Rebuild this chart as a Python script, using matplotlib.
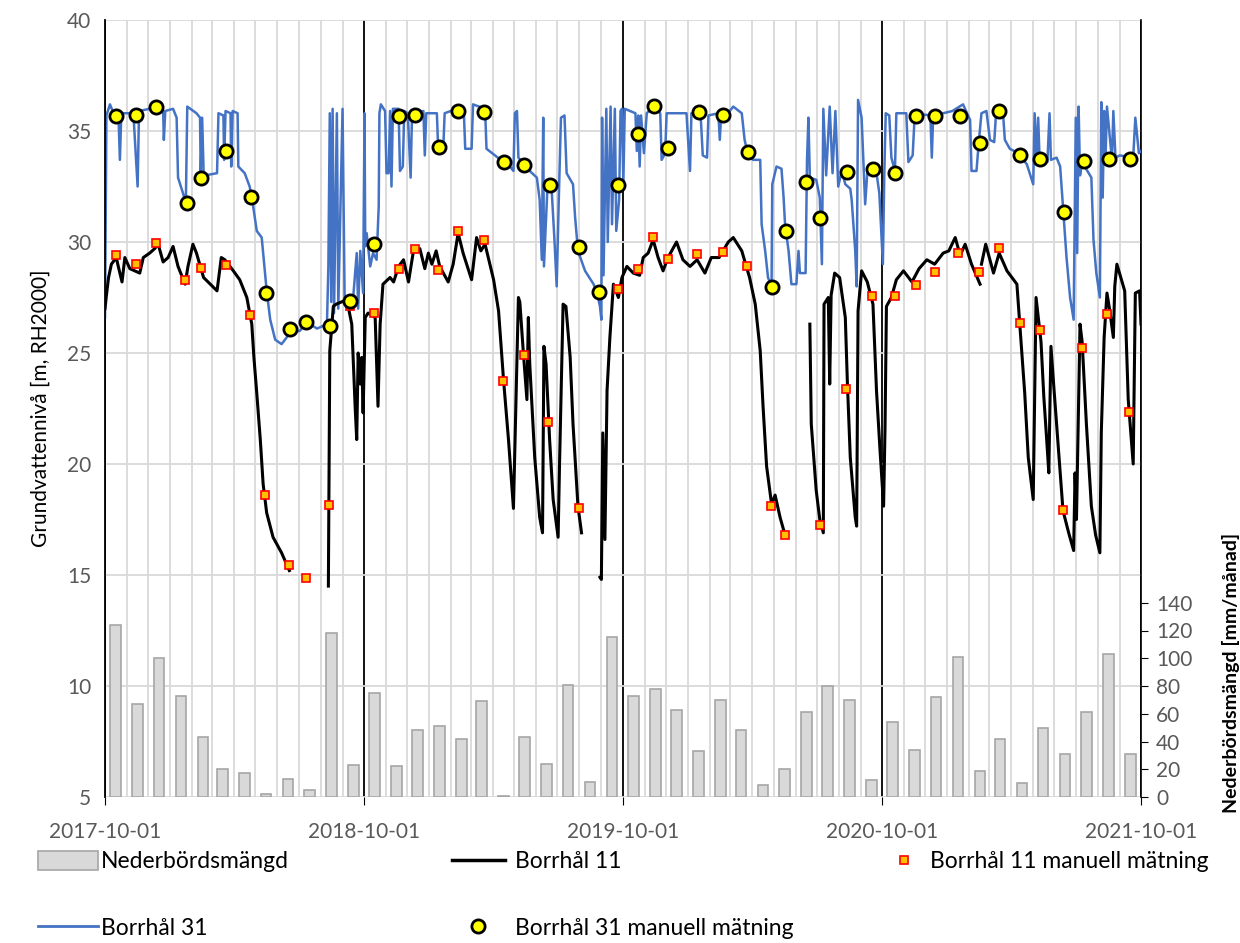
import numpy as np
import pandas as pd
import matplotlib
matplotlib.use('Agg')
import matplotlib.pyplot as plt
import matplotlib.dates as mdates
from matplotlib.lines import Line2D
from matplotlib.patches import Patch

plt.rcParams['font.family'] = ['Lato', 'DejaVu Sans']

start = '2017-10-01'
end = '2021-10-01'

# monthly precipitation, Oct 2017 - Sep 2021 (mm/month)
precip = [124, 67, 100, 73, 43, 20, 17, 2, 13, 5, 118, 23,
          75, 22, 48, 51, 42, 69, 1, 43, 24, 81, 11, 115,
          73, 78, 63, 33, 70, 48, 9, 20, 61, 80, 70, 12,
          54, 34, 72, 101, 19, 42, 10, 50, 31, 61, 103, 31]

# Borrhål 11 logger (days since 2017-10-01, level m RH2000), nan = gap
b11_day = [0, 2, 5, 9, 16, 18, 24, 28, 35, 42, 49, 54, 63, 70, 75, 82, 89, 96, 103, 113,
           117, 124, 129, 139, 158, 164, 169, 181, 190, 200, 207, 210, 214, 219, 223, 228,
           237, 249, 260, np.nan,
           315, 317, 322, 326, 341, 348, 353, 355, 357, 360, 362, 364, 367, 371, 381, 385,
           388, 392, 402, 407, 414, 421, 428, 435, 444, 451, 456, 461, 467, 472, 484, 491,
           498, 505, 517, 524, 530, 536, 548, 555, 562, 569, 576, 583, 585, 590, 595, 597,
           599, 606, 613, 617, 619, 622, 627, 632, 639, 641, 644, 646, 650, 656, 660, 667,
           672, np.nan,
           698, 700, 702, 705, 708, 712, 717, 724, 729, 736, 745, 754, 759, 766, 773, 780,
           787, 794, 806, 815, 825, 835, 846, 855, 866, 879, 886, 888, 898, 909, 917, 924,
           928, 933, 940, 945, 952, 959, np.nan,
           994, 996, 1003, 1008, 1013, 1014, 1020, 1022, 1024, 1029, 1036, 1044, 1047, 1051,
           1058, 1060, 1062, 1067, 1075, 1083, 1088, 1093, 1098, 1100, 1102, 1109, 1116, 1126,
           1138, 1148, 1159, 1170, 1182, 1190, 1199, 1206, 1213, 1222, 1234, np.nan,
           1236, 1242, 1253, 1261, 1272, 1286, 1290, 1297, 1302, 1309, 1313, 1320, 1324, 1328,
           1331, 1334, 1338, 1345, 1351, 1359, 1366, 1368, 1370, 1375, 1378, 1384, 1391, 1397,
           1403, 1405, 1409, 1413, 1417, 1422, 1424, 1427, 1438, 1443, 1450, 1453, 1459, 1461]
b11_level = [27.0, 27.6, 28.4, 29.0, 29.3, 29.0, 28.2, 29.3, 28.8, 28.7, 28.6, 29.3, 29.5, 29.7,
             29.9, 29.1, 29.3, 29.8, 28.9, 28.1, 28.9, 29.9, 29.5, 28.4, 27.8, 29.3, 29.2, 28.7,
             28.3, 27.5, 26.3, 24.8, 23.2, 21.1, 19.1, 17.8, 16.7, 16.0, 15.2, np.nan,
             14.5, 25.1, 27.1, 27.2, 27.4, 26.3, 22.4, 21.1, 25.0, 23.6, 24.8, 22.3, 26.6, 26.8,
             26.6, 22.6, 26.3, 28.1, 28.4, 28.2, 28.9, 29.2, 28.2, 29.6, 29.7, 28.8, 29.5, 29.0,
             29.6, 28.9, 28.2, 29.0, 30.4, 29.5, 28.3, 30.2, 29.6, 29.9, 28.3, 26.9, 23.8, 21.1,
             18.0, 27.5, 27.3, 25.0, 22.9, 26.6, 24.5, 20.3, 17.6, 16.9, 25.3, 24.5, 21.1, 18.4,
             16.7, 20.0, 24.2, 27.2, 27.1, 24.8, 21.8, 18.1, 16.9, np.nan,
             14.9, 14.8, 21.4, 16.6, 23.3, 25.7, 28.1, 27.5, 28.4, 28.9, 28.6, 28.5, 29.3, 29.5,
             30.1, 29.3, 28.7, 29.3, 30.0, 29.2, 28.9, 29.2, 28.6, 29.3, 29.3, 30.0, 30.2, 30.1,
             29.6, 28.4, 27.2, 25.1, 22.6, 19.9, 18.2, 18.6, 17.6, 16.8, np.nan,
             26.3, 21.8, 18.8, 17.5, 16.9, 27.2, 27.5, 23.6, 27.6, 28.6, 28.4, 26.6, 23.6, 20.3,
             17.6, 17.2, 26.9, 28.7, 28.2, 27.2, 23.3, 20.6, 18.1, 21.6, 27.1, 27.5, 28.3, 28.7,
             28.2, 28.8, 29.2, 29.0, 29.5, 29.6, 30.2, 29.4, 29.9, 29.0, 28.1, np.nan,
             29.0, 29.9, 28.6, 29.5, 28.7, 28.1, 26.3, 23.2, 20.3, 18.4, 27.5, 25.5, 23.0, 21.1,
             19.6, 25.3, 23.5, 20.5, 17.9, 16.9, 16.1, 19.6, 17.5, 26.3, 25.5, 21.8, 18.1, 16.8,
             16.0, 21.4, 25.7, 27.7, 26.9, 25.7, 28.0, 29.0, 27.8, 22.9, 20.0, 27.7, 27.8, 26.3]

# Borrhål 31 logger
b31_day = [0, 2, 7, 12, 19, 21, 23, 40, 46, 48, 63, 82, 83, 85, 96, 101, 103, 110, 114, 116,
           129, 134, 135, 137, 139, 141, 158, 160, 167, 168, 170, 177, 178, 180, 187, 188, 197,
           204, 209, 214, 221, 223, 228, 233, 240, 249, 261, 275, 284, 299, 313, 315, 317, 319,
           321, 323, 327, 329, 335, 338, 340, 345, 350, 355, 357, 360, 364, 366, 367, 369, 374,
           378, 383, 386, 387, 389, 395, 397, 400, 402, 404, 406, 414, 416, 420, 422, 427, 431,
           433, 449, 451, 453, 468, 470, 477, 479, 496, 506, 508, 517, 519, 536, 538, 550, 562,
           571, 576, 578, 581, 583, 599, 609, 613, 616, 618, 619, 624, 630, 634, 637, 640, 643,
           648, 651, 660, 663, 667, 677, 689, 694, 698, 700, 701, 703, 707, 709, 713, 715, 719,
           721, 725, 727, 729, 731, 733, 748, 750, 752, 754, 756, 760, 764, 773, 783, 785, 790,
           792, 820, 825, 827, 840, 843, 849, 851, 865, 867, 869, 881, 886, 898, 902, 907, 914,
           924, 926, 931, 935, 940, 941, 947, 954, 957, 959, 964, 968, 975, 978, 980, 988, 990,
           992, 994, 1003, 1008, 1011, 1013, 1017, 1022, 1026, 1030, 1034, 1039, 1044, 1051,
           1053, 1058, 1060, 1062, 1067, 1070, 1072, 1075, 1088, 1092, 1097, 1099, 1101, 1106,
           1109, 1114, 1116, 1130, 1133, 1139, 1142, 1164, 1166, 1168, 1182, 1195, 1210, 1220,
           1222, 1229, 1232, 1236, 1243, 1248, 1254, 1257, 1266, 1269, 1276, 1288, 1300, 1309,
           1311, 1314, 1316, 1318, 1329, 1332, 1334, 1342, 1347, 1351, 1356, 1361, 1366, 1368,
           1369, 1371, 1373, 1375, 1378, 1391, 1394, 1398, 1403, 1405, 1407, 1409, 1411, 1413,
           1420, 1422, 1425, 1431, 1450, 1453, 1458, 1461]
b31_level = [26.6, 35.7, 36.2, 35.8, 35.7, 33.7, 35.8, 35.8, 32.5, 35.9, 36.0, 35.9, 34.6, 35.9,
             36.0, 35.6, 32.9, 32.2, 31.7, 36.1, 35.8, 35.6, 33.1, 35.6, 33.2, 33.0, 33.1, 35.8,
             35.7, 33.7, 35.9, 35.8, 33.4, 35.9, 35.8, 33.4, 33.1, 32.5, 31.6, 30.5, 30.2, 29.5,
             27.8, 26.5, 25.6, 25.4, 25.9, 26.0, 26.4, 26.1, 26.3, 28.9, 35.8, 27.3, 36.0, 26.8,
             35.8, 27.0, 36.0, 27.2, 27.3, 27.0, 27.5, 29.5, 27.0, 29.6, 27.7, 35.8, 29.8, 30.4,
             28.9, 29.5, 29.2, 31.6, 35.8, 36.2, 35.9, 33.1, 33.1, 35.9, 32.5, 36.0, 36.0, 33.2,
             33.4, 35.9, 35.8, 32.9, 35.8, 35.9, 33.9, 35.8, 35.8, 34.1, 34.2, 35.8, 36.0, 35.9,
             34.2, 34.2, 36.2, 36.0, 34.2, 33.9, 33.6, 33.4, 33.2, 35.8, 35.9, 33.8, 33.2, 32.9,
             31.9, 29.2, 35.6, 28.9, 32.5, 32.3, 30.0, 28.0, 32.0, 35.6, 35.7, 33.1, 32.6, 31.1,
             29.6, 28.7, 28.1, 27.7, 27.1, 26.5, 35.6, 28.5, 36.0, 30.0, 36.1, 30.8, 36.0, 30.5,
             31.9, 35.9, 36.0, 32.7, 36.0, 35.8, 34.1, 35.7, 33.4, 35.7, 34.0, 35.8, 36.1, 35.8,
             33.7, 34.0, 35.8, 35.8, 33.2, 35.8, 35.7, 33.9, 33.8, 35.7, 35.8, 34.6, 35.8, 35.9,
             36.1, 35.8, 34.6, 33.9, 33.7, 33.7, 30.8, 29.6, 28.4, 28.0, 32.6, 33.4, 33.3, 32.0,
             30.8, 29.6, 28.1, 28.1, 29.6, 28.6, 28.6, 33.7, 35.6, 32.9, 32.8, 32.0, 29.0, 36.0,
             33.0, 36.1, 33.1, 35.9, 32.5, 33.2, 32.6, 32.4, 31.9, 29.6, 28.0, 36.4, 35.6, 33.3,
             31.7, 33.1, 33.1, 32.2, 29.0, 33.1, 35.8, 35.7, 33.8, 33.2, 35.8, 35.8, 33.6, 33.9,
             35.8, 35.7, 33.8, 35.8, 35.8, 35.9, 36.2, 35.5, 33.2, 33.2, 34.4, 35.8, 35.9, 34.6,
             34.5, 36.0, 36.0, 34.6, 34.2, 34.0, 33.5, 32.6, 35.8, 33.7, 35.6, 33.7, 33.6, 35.8,
             33.7, 33.8, 33.4, 31.6, 29.3, 27.5, 26.5, 32.3, 35.6, 29.5, 36.1, 33.0, 33.6, 32.9,
             30.1, 28.6, 27.5, 36.3, 32.0, 35.9, 33.8, 36.1, 33.7, 35.9, 33.8, 33.9, 33.8, 35.6,
             34.0, 34.1]

# manual measurements
b11_man_day = [16, 44, 72, 113, 135, 170, 205, 225, 260, 283, 316, 345, 379, 414, 437, 470,
               498, 535, 561, 591, 625, 668, 723, 751, 773, 794, 835, 872, 905, 939, 959, 1008,
               1045, 1081, 1114, 1144, 1170, 1203, 1233, 1261, 1290, 1319, 1351, 1378, 1413, 1444]
b11_man_level = [29.43, 29.02, 29.97, 28.30, 28.83, 28.98, 26.70, 18.61, 15.46, 14.86, 18.15,
                 27.12, 26.81, 28.77, 29.67, 28.72, 30.51, 30.09, 23.72, 24.91, 21.89, 18.03,
                 27.88, 28.78, 30.21, 29.25, 29.44, 29.55, 28.90, 18.09, 16.79, 17.25, 23.36,
                 27.58, 27.58, 28.08, 28.66, 29.49, 28.66, 29.73, 26.34, 26.05, 17.91, 25.21,
                 26.76, 22.35]
b31_man_day = [16, 44, 72, 115, 135, 171, 206, 227, 261, 284, 317, 345, 379, 415, 437, 471,
               498, 534, 562, 591, 627, 668, 697, 723, 751, 774, 794, 837, 872, 907, 941, 960,
               989, 1008, 1047, 1083, 1114, 1144, 1170, 1206, 1234, 1261, 1291, 1319, 1352, 1380,
               1416, 1446]
b31_man_level = [35.66, 35.72, 36.07, 31.74, 32.87, 34.11, 32.04, 27.70, 26.09, 26.39, 26.21,
                 27.35, 29.91, 35.66, 35.72, 34.27, 35.90, 35.84, 33.59, 33.48, 32.58, 29.77,
                 27.76, 32.57, 34.88, 36.13, 34.25, 35.84, 35.72, 34.05, 27.96, 30.51, 32.69,
                 31.08, 33.17, 33.29, 33.11, 35.66, 35.66, 35.66, 34.47, 35.90, 33.93, 33.75,
                 31.34, 33.63, 33.75, 33.75]

t0 = mdates.date2num(pd.Timestamp(start))
b11_x = t0 + np.array(b11_day, dtype=float)
b31_x = t0 + np.array(b31_day, dtype=float)
month_mid = mdates.date2num(pd.date_range(start, periods=len(precip), freq='MS')) + 15

fig = plt.figure(figsize=(12.4, 9.43), dpi=100)
ax = fig.add_axes([105 / 1240, 1 - 797 / 943, 1036 / 1240, 777 / 943])
axp = ax.twinx()
ax.set_zorder(2)
axp.set_zorder(1)
ax.patch.set_visible(False)

grey = '#595959'
grid = '#d9d9d9'

# precipitation bars on the right axis, grid drawn behind them
axp.bar(month_mid, precip, width=15, color='#d9d9d9', edgecolor='#a6a6a6', linewidth=1.2)
axp.set_ylim(0, 560)
axp.set_yticks(range(0, 141, 20))
axp.set_yticks(range(0, 561, 80), minor=True)
axp.yaxis.remove_overlapping_locs = False
axp.set_axisbelow(True)
axp.xaxis.set_visible(True)
axp.grid(True, axis='x', which='minor', color=grid, lw=1.3)
axp.grid(True, axis='x', which='major', color='black', lw=1.3)
axp.grid(True, axis='y', which='minor', color=grid, lw=1.3)
axp.tick_params(axis='x', which='both', bottom=False, top=False, labelbottom=False, labeltop=False)
axp.tick_params(axis='y', which='major', direction='out', length=5, color='black',
                labelcolor=grey, labelsize=15, pad=6)
axp.tick_params(axis='y', which='minor', length=0)
for s in ['top', 'left', 'bottom']:
    axp.spines[s].set_visible(False)
axp.spines['right'].set_color('black')
axp.spines['right'].set_linewidth(1.2)
axp.set_ylabel('Nederbördsmängd [mm/månad]', fontsize=14, fontweight='bold', color='black')
axp.yaxis.set_label_coords(1.078, 0.16)

# groundwater levels
ax.plot(b31_x, b31_level, color='#4472c4', lw=1.8)
ax.plot(b11_x, b11_level, color='black', lw=2.2)
ax.plot(t0 + np.array(b11_man_day), b11_man_level, 's', ms=6, mfc='#ffc000', mec='#ff0000', mew=1.2)
ax.plot(t0 + np.array(b31_man_day), b31_man_level, 'o', ms=9.5, mfc='#ffff00', mec='black', mew=2)

ax.xaxis_date()
ax.set_xlim(mdates.date2num(pd.Timestamp(start)), mdates.date2num(pd.Timestamp(end)))
ax.set_ylim(5, 40)
ax.set_yticks(range(5, 41, 5))
ax.xaxis.set_major_locator(mdates.YearLocator(month=10, day=1))
ax.xaxis.set_minor_locator(mdates.MonthLocator())
ax.xaxis.set_major_formatter(mdates.DateFormatter('%Y-%m-%d'))
ax.tick_params(axis='x', which='major', direction='out', length=6, color='black',
               labelcolor=grey, labelsize=15, pad=12)
ax.tick_params(axis='x', which='minor', length=0)
ax.tick_params(axis='y', length=0, labelcolor=grey, labelsize=15, pad=10)
for s in ['top', 'right', 'bottom']:
    ax.spines[s].set_visible(False)
ax.spines['left'].set_color('black')
ax.spines['left'].set_linewidth(1.3)
ax.set_ylabel('Grundvattennivå [m, RH2000]', fontsize=15, color='black', labelpad=12)

# legend in three columns
fs = 16.5
top = 1 - 851 / 943
fig.legend(handles=[Patch(fc='#d9d9d9', ec='#a6a6a6', lw=1.2),
                    Line2D([], [], color='#4472c4', lw=2)],
           labels=['Nederbördsmängd', 'Borrhål 31'], loc='upper left',
           bbox_to_anchor=(38 / 1240, top), frameon=False, fontsize=fs,
           handlelength=2.6, handleheight=0.9, handletextpad=0.15, labelspacing=1.97,
           borderpad=0, borderaxespad=0)
fig.legend(handles=[Line2D([], [], color='black', lw=2.5),
                    Line2D([], [], ls='none', marker='o', ms=9.5, mfc='#ffff00', mec='black', mew=2)],
           labels=['Borrhål 11', 'Borrhål 31 manuell mätning'], loc='upper left',
           bbox_to_anchor=(452 / 1240, top), frameon=False, fontsize=fs,
           handlelength=2.3, handleheight=0.9, handletextpad=0.45, labelspacing=1.97,
           borderpad=0, borderaxespad=0)
fig.legend(handles=[Line2D([], [], ls='none', marker='s', ms=6, mfc='#ffc000', mec='#ff0000', mew=1.2)],
           labels=['Borrhål 11 manuell mätning'], loc='upper left',
           bbox_to_anchor=(893 / 1240, top), frameon=False, fontsize=fs,
           handlelength=1.0, handleheight=0.9, handletextpad=0.6,
           borderpad=0, borderaxespad=0)

fig.savefig('out.png', dpi=100, facecolor='white')
